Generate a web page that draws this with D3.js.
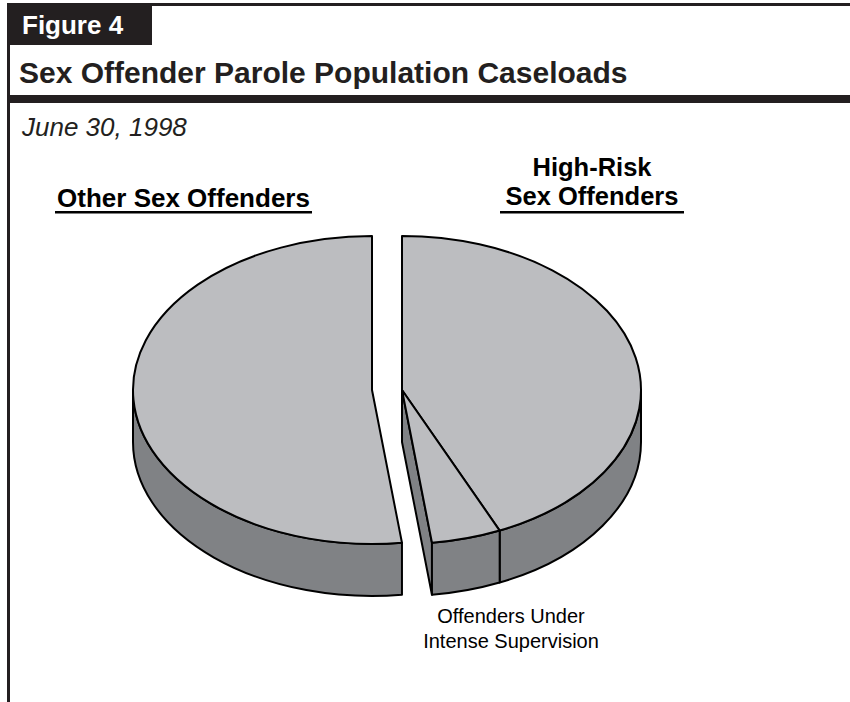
<!DOCTYPE html>
<html><head><meta charset="utf-8">
<script src="https://cdn.jsdelivr.net/npm/d3@7"></script>
<style>body{margin:0;background:#fff}svg{display:block}text{font-family:"Liberation Sans",Arial,Helvetica,sans-serif}</style>
</head><body>
<script>
// Data (shares of sex offender parole population, %)
const categories = ["High-Risk Sex Offenders", "Offenders Under Intense Supervision", "Other Sex Offenders"];
const groups = ["high", "high", "other"];
const values = [43.3, 4.7, 52.0];
const figureLabel = "Figure 4";
const title = "Sex Offender Parole Population Caseloads";
const subtitle = "June 30, 1998";

const W = 850, H = 702;
const svg = d3.select("body").append("svg").attr("width", W).attr("height", H);

// frame
const frameCol = "#231f20";
svg.append("rect").attr("x", 7).attr("y", 3).attr("width", W - 7).attr("height", 3).attr("fill", frameCol);
svg.append("rect").attr("x", 7).attr("y", 3).attr("width", 3).attr("height", H - 3).attr("fill", frameCol);
svg.append("rect").attr("x", 7).attr("y", 3).attr("width", 145).attr("height", 42).attr("fill", frameCol);
svg.append("rect").attr("x", 7).attr("y", 95).attr("width", W - 7).attr("height", 8).attr("fill", frameCol);
svg.append("text").attr("x", 22).attr("y", 34).attr("fill", "#fff").attr("font-weight", "bold").attr("font-size", 26).text(figureLabel);
svg.append("text").attr("x", 19).attr("y", 83).attr("fill", "#231f20").attr("font-weight", "bold").attr("font-size", 30).text(title);
svg.append("text").attr("x", 22).attr("y", 136).attr("fill", "#231f20").attr("font-style", "italic").attr("font-size", 26).text(subtitle);

// pie geometry
const pie = d3.pie().sort(null).value(d => d.v);
const arcs = pie(values.map((v, i) => ({v, name: categories[i], g: groups[i]})));
const rx = 239, ry = 154, depth = 52, cy = 390, cx0 = 387;
const explode = {high: 15, other: -15};
const topCol = "#bcbdc0", sideCol = "#808285", stroke = "#000";

function pt(cx, a, dy = 0) { return [cx + rx * Math.sin(a), cy - ry * Math.cos(a) + dy]; }

function topPath(cx, a0, a1) {
  const p0 = pt(cx, a0), p1 = pt(cx, a1);
  const large = (a1 - a0) > Math.PI ? 1 : 0;
  return `M${cx},${cy}L${p0}A${rx},${ry} 0 ${large} 1 ${p1}Z`;
}
function sidePath(cx, a0, a1) {
  const s = Math.max(a0, Math.PI / 2), e = Math.min(a1, 3 * Math.PI / 2);
  if (e <= s) return null;
  const p0 = pt(cx, s), p1 = pt(cx, e), q1 = pt(cx, e, depth), q0 = pt(cx, s, depth);
  return `M${p0}A${rx},${ry} 0 0 1 ${p1}L${q1}A${rx},${ry} 0 0 0 ${q0}Z`;
}

const g = svg.append("g").attr("stroke", stroke).attr("stroke-width", 2).attr("stroke-linejoin", "round");

// group extents
const grp = {};
arcs.forEach(a => {
  const k = a.data.g;
  if (!grp[k]) grp[k] = {s: a.startAngle, e: a.endAngle};
  grp[k].s = Math.min(grp[k].s, a.startAngle); grp[k].e = Math.max(grp[k].e, a.endAngle);
});

["other", "high"].forEach(k => {
  const cx = cx0 + explode[k];
  const gr = grp[k];
  if (gr.e > Math.PI / 2 && gr.e < Math.PI) {
    const p = pt(cx, gr.e);
    g.append("path").attr("fill", sideCol)
      .attr("d", `M${cx},${cy}L${p}L${p[0]},${p[1] + depth}L${cx},${cy + depth}Z`);
  }
  arcs.filter(a => a.data.g === k).forEach(a => {
    const d = sidePath(cx, a.startAngle, a.endAngle);
    if (d) g.append("path").attr("fill", sideCol).attr("d", d);
  });
  arcs.filter(a => a.data.g === k).forEach(a => {
    g.append("path").attr("fill", topCol).attr("d", topPath(cx, a.startAngle, a.endAngle));
  });
});

// labels
const lab = svg.append("g").attr("fill", "#000");
lab.append("text").attr("x", 183.5).attr("y", 207).attr("text-anchor", "middle").attr("font-weight", "bold").attr("font-size", 26).text("Other Sex Offenders");
lab.append("rect").attr("x", 55).attr("y", 211).attr("width", 257).attr("height", 2.5);
lab.append("text").attr("x", 592).attr("y", 176).attr("text-anchor", "middle").attr("font-weight", "bold").attr("font-size", 25.5).text("High-Risk");
lab.append("text").attr("x", 592).attr("y", 205).attr("text-anchor", "middle").attr("font-weight", "bold").attr("font-size", 25.5).text("Sex Offenders");
lab.append("rect").attr("x", 500).attr("y", 211).attr("width", 184).attr("height", 2.5);
lab.append("text").attr("x", 511).attr("y", 623).attr("text-anchor", "middle").attr("font-size", 20).text("Offenders Under");
lab.append("text").attr("x", 511).attr("y", 648).attr("text-anchor", "middle").attr("font-size", 20).text("Intense Supervision");
</script>
</body></html>
